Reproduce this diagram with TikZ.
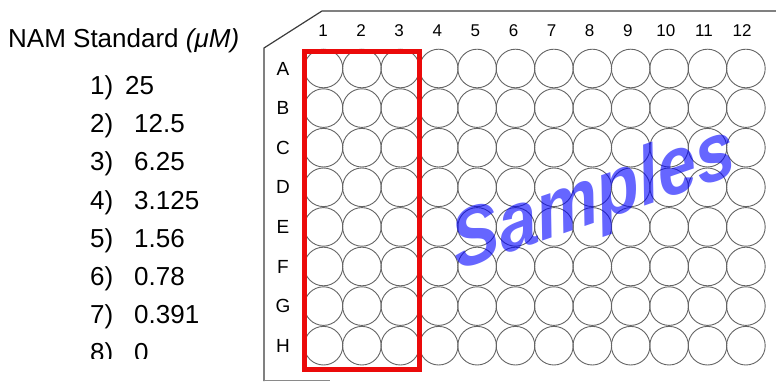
\documentclass[tikz,border=0pt]{standalone}
\usepackage{fontspec}
\setmainfont{Liberation Sans}
\usepackage{tikz}
\usetikzlibrary{positioning}
\definecolor{wellCol}{RGB}{100,100,100}
\definecolor{plateCol}{RGB}{60,60,60}
\definecolor{boxCol}{RGB}{235,10,10}
\definecolor{markCol}{RGB}{0,0,255}
\tikzset{
  plate/.style={draw=plateCol,line width=1.2pt},
  well/.style={draw=wellCol,line width=0.9pt},
  collab/.style={font=\fontsize{17}{18}\selectfont,anchor=base},
  rowlab/.style={font=\fontsize{19}{20}\selectfont},
  stdtxt/.style={font=\fontsize{26}{30}\selectfont,anchor=base west,inner sep=0pt},
  sel/.style={draw=boxCol,line width=5pt},
  stamp/.style={font=\fontsize{80}{86}\selectfont\bfseries\itshape,text=markCol,
                text opacity=0.6,anchor=base,inner sep=0pt},
}

\begin{document}
\begin{tikzpicture}[x=1pt,y=-1pt]
    \useasboundingbox (0,0) rectangle (776,382);
    % plate outline
    \draw[plate] (264,381) -- (264,48) -- (322,11) -- (776,11);
    \draw[draw=plateCol!60,line width=1pt] (264,380) -- (330,380);
    % wells
    \foreach \r in {1,...,8}
      \foreach \c in {1,...,12}
        \draw[well] ({323.5+38.4*(\c-1)},{68.5+39.6*(\r-1)}) circle (19.3);
    % column and row labels
    \foreach \c in {1,...,12}
      \node[collab] (col\c) at ({323+38.1*(\c-1)},37) {\c};
    \foreach \l [count=\r] in {A,B,C,D,E,F,G,H}
      \node[rowlab] (row\l) at (283,{68.5+39.6*(\r-1)}) {\l};
    % standards
    \node[stdtxt] (title) at (8,48) {NAM Standard \textit{(μM)}};
    \begin{scope}
      \clip (0,0) rectangle (262,358);
      \foreach \v [count=\i] in {25,12.5,6.25,3.125,1.56,0.78,0.391,0} {
        \node[stdtxt] (num\i) at (90,{95+38*(\i-1)}) {\i)};
        \ifnum\i=1
          \node[stdtxt] (std\i) at (125,{95+38*(\i-1)}) {\v};
        \else
          \node[stdtxt] (std\i) at (134,{95+38*(\i-1)}) {\v};
        \fi
      }
    \end{scope}
    % standard columns
    \draw[sel] (304,52) rectangle (419,369);
    \node[stamp,rotate=19,xslant=0.15,xscale=0.9] (samples) at (598,222) {Samples};
  \end{tikzpicture}
\end{document}
